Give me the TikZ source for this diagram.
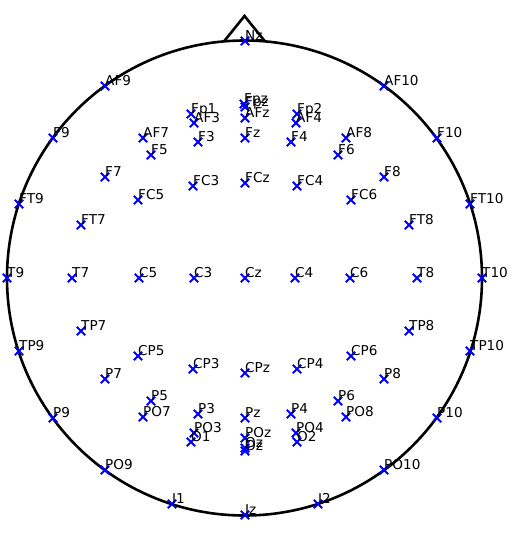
\documentclass[tikz,border=0pt]{standalone}
\usepackage{fontspec}
\setmainfont{DejaVu Sans}
\tikzset{
  headline/.style={line width=2.6pt, black},
  mk/.style={line width=2pt, blue},
  lbl/.style={inner sep=0pt, anchor=base west, font=\fontsize{13.6}{14}\selectfont, text=black},
}
\begin{document}
\begin{tikzpicture}[x=1pt,y=-1pt]
\useasboundingbox (0,0) rectangle (513,544);
\coordinate (c) at (244.5,278);
\draw[headline] (c) circle[radius=237.5pt];
\coordinate (nl) at (224,41.4);
\coordinate (nt) at (244.5,16);
\coordinate (nr) at (265,41.4);
\draw[headline, line join=miter] (nl) -- (nt) -- (nr);
\foreach \n/\x/\y/\t in {
 Nz/245/41/Nz, Fpzb/245/107/Fpz, Fpz/244/104/Fpz, AFz/245/118/AFz,
 Fp1/191/114/Fp1, AF3/194/123/AF3, Fp2/297/114/Fp2, AF4/296/123/AF4,
 F3/198/142/F3, Fz/245/138/Fz, F4/291/142/F4,
 AF9/105/86/AF9, AF10/384/86/AF10, F9/53/138/F9, F10/437/138/F10,
 AF7/143/138/AF7, AF8/346/138/AF8, F5/151/155/F5, F6/338/155/F6,
 F7/105/177/F7, F8/384/177/F8, FC5/138/200/FC5, FC6/351/200/FC6,
 FC3/193/186/FC3, FCz/245/183/FCz, FC4/297/186/FC4,
 FT9/19/204/FT9, FT10/470/204/FT10, FT7/81/225/FT7, FT8/409/225/FT8,
 T9/7/278/T9, T7/72/278/T7, C5/139/278/C5, C3/194/278/C3, Cz/245/278/Cz,
 C4/295/278/C4, C6/350/278/C6, T8/417/278/T8, T10/482/278/T10,
 TP7/81/331/TP7, TP8/409/331/TP8, TP9/19/351/TP9, TP10/470/351/TP10,
 CP5/138/356/CP5, CP6/351/356/CP6, CP3/193/369/CP3, CPz/245/373/CPz, CP4/297/369/CP4,
 P7/105/379/P7, P8/384/379/P8, P5/151/401/P5, P6/338/401/P6,
 PO7/143/417/PO7, PO8/346/417/PO8, P9/53/418/P9, P10/437/418/P10,
 P3/198/414/P3, Pz/245/418/Pz, P4/291/414/P4,
 PO3/194/433/PO3, POz/245/438/POz, PO4/296/433/PO4,
 O1/191/442/O1, Oz/245/448/Oz, Ozb/245/451/Oz, O2/297/442/O2,
 PO9/105/470/PO9, PO10/384/470/PO10,
 I1/172/504/I1, Iz/245/515/Iz, I2/318/504/I2}
{
  \coordinate (\n) at (\x,\y);
  \draw[mk] (\n) ++(-4.2,-4.2) -- ++(8.4,8.4) (\n) ++(-4.2,4.2) -- ++(8.4,-8.4);
  \node[lbl] (\n-t) at ([yshift=1pt]\n) {\t};
}
\end{tikzpicture}
\end{document}
